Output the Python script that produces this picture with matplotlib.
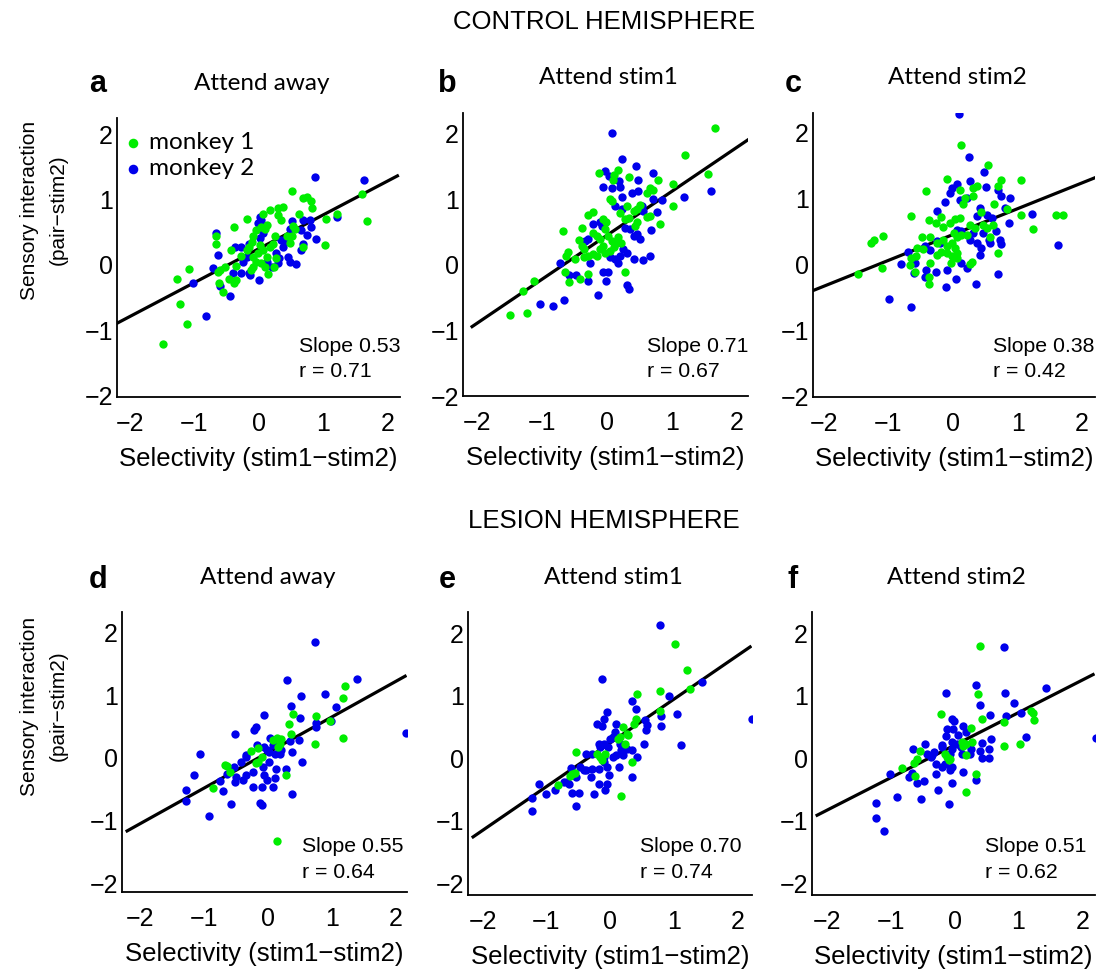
import matplotlib
matplotlib.use("Agg")
import matplotlib.pyplot as plt
import numpy as np

W, H = 1101, 976

# ---------------- data ----------------
# Panel a: control, attend away
a_m1_x = [0.52,0.69,0.75,0.81,0.83,1.60,1.68,1.22,1.04,1.03,0.63,0.30,0.38,0.17,0.06,-0.19,-0.38,-0.66,-0.67,
          -1.09,-1.27,-1.23,-1.11,-1.49,-0.62,-0.55,-0.39,-0.36,-0.47,-0.63,-0.60,-0.53,-0.43,-0.36,-0.28,-0.12,
          -0.09,0.14,0.24,0.26,0.43,0.51,0.48,0.53,0.56,0.34,0.30,-0.09,-0.04,0.04,0.09,0.12,-0.11,0.02,0.07,
          -0.01,-0.09,-0.16,-0.19,0.17,0.22,0.25,0.12,0.04,-0.04,0.09,0.68]
a_m1_y = [1.14,1.03,1.04,0.98,0.87,1.09,0.68,0.78,0.70,0.31,0.78,0.88,0.89,0.85,0.79,0.71,0.59,0.44,0.32,
          -0.06,-0.22,-0.60,-0.91,-1.22,-0.28,-0.41,-0.28,-0.23,-0.21,-0.11,-0.07,-0.03,0.23,-0.02,0.14,-0.07,
          -0.03,-0.14,-0.03,0.10,0.45,0.45,0.34,0.60,0.56,0.69,0.77,0.44,0.54,0.59,0.56,0.62,0.36,0.31,0.23,
          0.18,0.13,0.28,0.23,0.28,0.33,0.44,0.13,0.03,0.05,-0.03,0.27]
a_m2_x = [0.87,1.63,1.21,0.88,0.69,0.79,0.81,0.74,0.66,0.51,0.48,0.57,0.48,0.45,0.30,0.32,0.27,0.38,0.40,0.35,
          0.02,0.04,-0.01,-0.66,-0.64,-0.71,-1.02,-0.82,-0.44,-0.60,-0.37,-0.27,-0.16,-0.19,-0.24,-0.40,-0.27,
          -0.15,-0.13,0.00,0.20,0.12,0.02,0.07,0.66,0.69]
a_m2_y = [1.35,1.30,0.74,0.40,0.69,0.69,0.59,0.46,0.54,0.68,0.56,0.02,0.05,0.13,0.03,0.10,0.18,0.28,0.36,0.38,
          0.74,0.69,0.64,0.49,0.16,-0.04,-0.27,-0.79,-0.47,-0.33,0.28,0.28,0.33,0.13,0.05,-0.13,-0.13,
          -0.13,-0.16,-0.23,-0.03,0.05,0.41,0.49,0.23,0.33]

# Panel b: control, attend stim1
b_m1_x = [1.66,1.20,1.56,1.01,1.02,0.82,0.78,0.66,0.70,0.61,0.50,0.46,0.41,0.30,0.34,0.16,0.09,0.11,-0.12,
          0.04,0.07,0.66,0.61,0.46,0.43,0.34,0.28,0.20,-0.21,-0.30,-0.39,-0.44,-0.68,-0.39,-0.36,-0.61,-0.63,
          -0.49,-0.36,-0.65,-0.58,-0.42,-0.29,-1.12,-1.29,-1.50,-1.24,0.28,-0.21,-0.16,-0.11,-0.03,-0.01,-0.07,
          0.02,0.07,0.12,0.17,0.22,-0.11,-0.03,0.05,0.10,-0.29,-0.21,-0.06,-0.16]
b_m1_y = [2.09,1.68,1.39,1.24,0.90,0.63,1.30,1.17,1.14,1.10,0.91,0.86,0.82,0.90,1.34,1.45,1.30,1.37,1.41,
          1.01,0.97,0.75,0.74,0.65,0.60,0.72,0.70,0.79,0.81,0.76,0.57,0.38,0.52,0.29,0.24,0.20,0.14,
          0.09,0.12,-0.11,-0.26,-0.21,-0.14,-0.25,-0.39,-0.77,-0.74,-0.10,0.49,0.44,0.39,0.55,0.65,0.70,
          0.44,0.37,0.32,0.42,0.34,0.24,0.19,0.22,0.27,0.14,0.17,0.29,0.14]
b_m2_x = [0.07,0.23,0.45,0.71,0.48,-0.03,0.03,0.19,0.20,0.08,-0.07,0.48,0.38,0.23,0.84,0.71,0.77,1.19,1.60,
          0.68,0.66,0.55,0.41,0.31,0.25,0.31,0.33,0.17,0.02,-0.07,-0.02,-0.14,-0.26,-0.29,-0.48,-0.58,-0.72,
          -0.67,-0.84,-1.03,0.46,0.51,0.41,0.35,0.28,0.53,0.56,0.23,0.12,-0.08,-0.11,-0.21,-0.29,-0.34,0.20,
          0.12,0.05]
b_m2_y = [2.01,1.62,1.51,1.40,1.30,1.44,1.36,1.28,1.19,1.18,1.19,1.13,1.10,1.04,0.99,1.00,0.81,1.04,1.13,
          0.54,0.14,0.07,0.09,0.19,0.24,-0.31,-0.36,0.03,-0.11,-0.10,-0.24,-0.46,0.03,-0.24,-0.15,-0.16,0.03,
          -0.54,-0.63,-0.60,0.47,0.39,0.44,0.55,0.57,0.90,0.82,0.85,0.90,0.60,0.65,0.62,0.39,0.37,0.14,
          0.09,0.12]

# Panel c: control, attend stim2
c_m1_x = [0.12,0.54,-0.09,0.11,0.18,0.31,0.37,0.31,0.15,0.75,0.70,1.05,1.05,0.83,0.64,1.24,1.59,1.71,0.69,
          -0.42,-0.65,-0.38,-0.27,-0.18,-0.16,-1.09,-1.22,-1.27,-1.10,-1.48,-0.56,-0.46,-0.48,-0.36,-0.65,
          -0.66,-0.57,-0.59,-0.38,-0.37,-0.36,-0.25,-0.03,-0.01,0.26,0.30,0.03,0.11,-0.05,0.26,0.34,0.44,
          0.47,0.52,0.57,0.62,0.01,0.06,0.13,0.21,-0.15,-0.10,-0.02,0.03,-0.18,-0.10,0.06,-0.25,0.06]
c_m1_y = [1.81,1.52,1.30,1.14,1.01,1.17,1.20,1.04,0.92,1.28,1.20,1.28,0.76,0.84,0.92,0.54,0.76,0.76,0.18,
          1.12,0.74,0.68,0.63,0.73,0.58,0.44,0.37,0.33,-0.04,-0.14,0.25,0.24,0.42,0.43,0.10,
          0.00,0.13,-0.10,-0.19,-0.29,0.03,0.15,0.03,0.13,0.02,0.04,0.69,0.71,0.63,0.61,0.56,0.80,
          0.61,0.56,0.43,0.61,0.48,0.43,0.46,0.46,0.38,0.28,0.33,0.25,0.20,0.18,0.18,0.33,0.10]
c_m2_x = [0.10,0.24,0.48,0.51,0.26,0.06,-0.01,-0.04,0.11,0.21,-0.13,-0.25,0.70,0.75,0.89,0.80,1.23,1.63,0.86,
          0.42,0.52,0.60,0.37,0.73,0.74,0.66,0.70,0.35,0.42,0.43,0.13,0.21,0.05,-0.11,-0.10,-0.27,-0.42,
          -0.43,-0.60,-0.59,-0.81,-0.70,-1.00,-0.65,-0.43,-0.36,-0.25,-0.20,0.06,0.13,0.26,0.31,0.37,0.47,
          0.55,0.57]
c_m2_y = [2.29,1.64,1.41,1.18,1.27,1.22,1.17,1.09,0.99,1.02,0.95,0.81,1.14,1.04,1.01,0.86,0.77,0.30,0.63,
          0.86,0.76,0.71,0.74,0.38,0.32,0.52,-0.14,-0.29,0.15,0.25,0.03,-0.05,-0.21,-0.33,-0.08,-0.11,-0.07,
          -0.19,-0.13,0.03,0.01,0.20,-0.51,-0.64,0.28,0.23,0.36,0.33,0.53,0.51,0.38,0.48,0.33,0.48,
          0.38,0.33]

# Panel d: lesion, attend away
d_m1_x = [1.20,1.18,0.75,0.97,1.17,0.74,0.39,0.33,0.36,0.29,0.14,-0.87,-0.68,-0.65,-0.60,-0.26,-0.15,-0.19,
          -0.15,-0.10,0.08,0.14,0.21,0.16,0.19]
d_m1_y = [1.15,0.96,0.66,0.59,0.32,0.22,0.70,0.54,0.38,-0.27,-1.32,-0.47,-0.11,-0.13,-0.22,0.11,0.16,-0.08,
          -0.06,0.02,0.29,0.31,0.30,0.18,0.23]
d_m2_x = [0.73,1.39,0.30,0.52,0.90,1.07,0.36,0.50,0.75,0.75,0.99,2.17,-0.07,-0.19,-0.22,-0.52,-1.06,-1.16,
          -1.28,-1.28,-0.93,-0.70,-0.58,-0.13,-0.10,0.38,0.29,0.53,0.38,0.49,0.35,0.03,0.08,0.11,0.01,-0.18,
          -0.07,-0.02,-0.34,-0.35,-0.42,0.01,-0.08,-0.23,-0.07,-0.02,-0.34,-0.39,-0.52,-0.50,-0.23,-0.10,0.08,
          0.11,0.12,-0.75,-0.65,-0.54,0.21,0.19]
d_m2_y = [1.84,1.26,1.24,0.99,1.02,0.81,0.83,0.64,0.55,0.49,0.58,0.40,0.69,0.50,0.44,0.38,0.06,-0.27,
          -0.51,-0.68,-0.92,-0.52,-0.73,-0.72,-0.75,-0.57,-0.18,-0.07,0.09,0.28,0.27,0.31,0.21,0.07,0.09,0.21,
          0.17,0.13,0.05,0.01,-0.07,-0.06,-0.14,-0.22,-0.27,-0.35,-0.27,-0.35,-0.38,-0.30,-0.46,-0.46,-0.46,
          -0.32,-0.17,-0.36,-0.25,-0.14,0.13,0.06]

# Panel e: lesion, attend stim1
e_m1_x = [1.02,1.21,1.25,0.79,0.43,0.78,0.41,0.37,0.20,0.29,0.26,0.13,0.16,0.24,-0.53,-0.21,-0.16,-0.08,
          -0.13,0.35,0.18,-0.63,-0.60,-0.55,-0.82]
e_m1_y = [1.82,1.41,1.11,1.08,1.02,0.75,0.62,0.55,0.50,0.37,0.39,0.31,0.34,0.22,0.10,0.06,0.02,0.06,
          -0.03,-0.06,-0.61,-0.28,-0.25,-0.23,-0.43]
e_m2_x = [0.79,-0.13,1.45,0.93,0.35,0.41,1.05,0.80,0.80,2.23,1.12,0.54,0.55,0.58,0.56,-0.05,-0.10,-0.21,
          -0.13,0.10,0.08,0.43,0.35,0.14,-0.03,-0.10,-0.16,-0.18,0.00,0.05,0.16,0.18,0.20,0.26,0.34,0.10,0.05,
          -0.10,-0.38,-0.29,-0.05,-0.10,-0.17,-0.29,-0.47,-0.62,-0.41,-0.37,-0.30,-0.01,-0.05,-0.08,-0.18,
          -0.25,-0.48,-0.59,-0.53,-0.68,-0.65,-0.72,-0.87,-1.11,-1.01,-1.22,-1.22,-0.53]
e_m2_y = [2.13,1.27,1.22,0.99,0.92,0.79,0.71,0.68,0.52,0.63,0.21,0.23,0.61,0.53,0.45,0.74,0.62,0.54,
          0.51,0.55,0.42,0.02,-0.30,-0.14,0.18,0.23,0.18,0.23,0.31,0.34,0.23,0.13,0.05,0.15,0.13,0.05,0.02,
          0.02,0.07,0.07,-0.14,-0.06,-0.18,-0.18,-0.14,-0.15,-0.19,-0.19,-0.30,-0.27,-0.41,-0.51,-0.41,
          -0.58,-0.55,-0.55,-0.77,-0.38,-0.42,-0.38,-0.51,-0.42,-0.57,-0.64,-0.84,-0.30]

# Panel f: lesion, attend stim2
f_m1_x = [0.40,0.37,0.42,-0.21,0.78,1.20,1.23,1.25,0.77,1.02,0.26,0.12,0.17,0.27,0.13,0.17,-0.15,-0.12,
          -0.07,-0.09,-0.54,-0.59,-0.64,-0.83,-0.62,0.34,0.18]
f_m1_y = [1.79,1.03,0.62,0.70,0.58,0.76,0.73,0.61,0.20,0.22,0.49,0.26,0.23,0.26,0.19,0.05,0.06,0.02,
          -0.01,-0.03,0.12,-0.02,-0.07,-0.15,-0.28,-0.26,-0.54]
f_m2_x = [0.78,1.43,0.79,0.34,-0.14,0.40,0.93,1.04,0.81,0.56,2.21,1.11,0.57,0.43,0.40,0.43,0.54,0.53,
          -0.04,-0.02,-0.12,-0.03,0.13,0.17,0.05,-0.14,-0.20,-0.20,-0.33,-0.36,-0.43,-0.38,-0.46,-0.65,-0.04,
          -0.04,0.04,0.09,-0.07,0.12,0.24,0.26,-0.30,-0.29,-0.20,-0.15,-0.07,-0.04,0.13,-0.05,-0.26,-0.09,
          0.34,-0.49,-0.53,-0.60,-0.67,-0.72,-0.90,-1.02,-1.23,-1.23,-1.11]
f_m2_y = [1.78,1.13,1.05,1.17,1.05,0.85,0.89,0.73,0.67,0.69,0.33,0.34,0.31,0.25,0.11,0.00,0.15,0.00,
          0.63,0.59,0.46,0.46,0.52,0.42,0.37,0.35,0.21,0.18,0.10,0.05,0.06,0.02,0.23,0.14,0.26,
          0.15,0.23,0.18,0.07,0.06,0.07,0.15,-0.09,-0.25,-0.14,-0.09,-0.19,-0.14,-0.22,-0.39,-0.51,-0.74,
          -0.35,-0.36,-0.65,-0.39,-0.23,-0.30,-0.62,-0.26,-0.71,-0.95,-1.17]

# fitted regression lines (visual slope/intercept, x extent)
fit_slope = [0.521, 0.671, 0.391, 0.564, 0.699, 0.520]
fit_icpt = [0.25, 0.455, 0.46, 0.087, 0.243, 0.21]
fit_x0 = [-2.19, -2.08, -2.17, -2.21, -2.15, -2.16]
fit_x1 = [2.15, 2.17, 2.20, 2.15, 2.20, 2.17]

slope_text = ["Slope 0.53", "Slope 0.71", "Slope 0.38", "Slope 0.55", "Slope 0.70", "Slope 0.51"]
r_text = ["r = 0.71", "r = 0.67", "r = 0.42", "r = 0.64", "r = 0.74", "r = 0.62"]
titles = ["Attend away", "Attend stim1", "Attend stim2"] * 2
letters = ["a", "b", "c", "d", "e", "f"]
ticks = [-2, -1, 0, 1, 2]
tick_labels = ["\u22122", "\u22121", "0", "1", "2"]

m1 = [(a_m1_x, a_m1_y), (b_m1_x, b_m1_y), (c_m1_x, c_m1_y), (d_m1_x, d_m1_y), (e_m1_x, e_m1_y), (f_m1_x, f_m1_y)]
m2 = [(a_m2_x, a_m2_y), (b_m2_x, b_m2_y), (c_m2_x, c_m2_y), (d_m2_x, d_m2_y), (e_m2_x, e_m2_y), (f_m2_x, f_m2_y)]

# ---------------- layout ----------------
boxes = [  # left, right, top, bottom in pixels
    (117, 400, 118, 397), (463, 748, 113, 396), (813, 1095, 113, 397),
    (122, 407, 612, 892), (468, 752, 612, 895), (812, 1095, 612, 895)]
xlims = [(-2.20, 2.19), (-2.22, 2.17), (-2.17, 2.20), (-2.29, 2.18), (-2.23, 2.23), (-2.24, 2.20)]
ylims = [(-2.03, 2.26), (-1.97, 2.32), (-2.00, 2.30), (-2.13, 2.32), (-2.19, 2.34), (-2.19, 2.34)]
stat_xy = [(299, 347), (647, 347), (993, 347), (302, 847), (640, 847), (985, 847)]

GREEN = (0.0, 0.93, 0.0)
BLUE = (0.0, 0.0, 0.92)
ARIAL = ["Liberation Sans", "DejaVu Sans"]
CALI = ["Lato", "DejaVu Sans"]
FS = 18

fig = plt.figure(figsize=(W / 100, H / 100), dpi=100)

for i in range(6):
    l, r, t, b = boxes[i]
    ax = fig.add_axes([l / W, 1 - b / H, (r - l) / W, (b - t) / H])
    ax.set_xlim(*xlims[i])
    ax.set_ylim(*ylims[i])
    for s in ["top", "right"]:
        ax.spines[s].set_visible(False)
    for s in ["left", "bottom"]:
        ax.spines[s].set_linewidth(1.3)
    ax.set_xticks(ticks)
    ax.set_yticks(ticks)
    ax.set_xticklabels(tick_labels, fontfamily=ARIAL, fontsize=FS)
    ax.set_yticklabels(tick_labels, fontfamily=ARIAL, fontsize=FS)
    ax.tick_params(axis="both", length=0)
    ax.tick_params(axis="x", pad=11)
    ax.tick_params(axis="y", pad=3)
    ax.patch.set_alpha(0)

    xs = np.array([fit_x0[i], fit_x1[i]])
    ax.plot(xs, fit_slope[i] * xs + fit_icpt[i], color="black", lw=2.3, zorder=1)
    h2 = ax.scatter(m2[i][0], m2[i][1], s=36, color=BLUE, linewidths=0, zorder=2, label="monkey 2")
    h1 = ax.scatter(m1[i][0], m1[i][1], s=36, color=GREEN, linewidths=0, zorder=3, label="monkey 1")

    ax.set_xlabel("Selectivity (stim1\u2212stim2)", fontfamily=ARIAL, fontsize=18.5, labelpad=8)

    sx, sy = stat_xy[i]
    fig.text(sx / W, 1 - sy / H, slope_text[i], fontfamily=ARIAL, fontsize=15.3, va="center", ha="left")
    fig.text(sx / W, 1 - (sy + 25) / H, r_text[i], fontfamily=ARIAL, fontsize=15.3, va="center", ha="left")

    fig.text(((l + r) / 2 + 3) / W, 1 - (t - 35) / H, titles[i], fontfamily=CALI, fontsize=17.5,
             va="center", ha="center")

    if i == 0:
        fig.legend(handles=[h1, h2], loc="upper left", bbox_to_anchor=(123 / W, 1 - 132 / H), frameon=False,
                   prop={"family": CALI, "size": 17.5}, handletextpad=0.25, labelspacing=0.21,
                   borderaxespad=0.0, handlelength=0.8, scatterpoints=1, borderpad=0.0, markerscale=1.15)

letter_xy = [(98, 84), (447, 84), (793, 84), (98, 580), (447, 580), (793, 580)]
for i, (lx, ly) in enumerate(letter_xy):
    fig.text(lx / W, 1 - ly / H, letters[i], fontfamily=ARIAL, fontsize=22, fontweight="bold",
             va="center", ha="center")

fig.text(604 / W, 1 - 22 / H, "CONTROL HEMISPHERE", fontfamily=ARIAL, fontsize=18.5, va="center", ha="center")
fig.text(604 / W, 1 - 521 / H, "LESION HEMISPHERE", fontfamily=ARIAL, fontsize=18.5, va="center", ha="center")

for yc in (210, 706):
    fig.text(30 / W, 1 - yc / H, "Sensory interaction", fontfamily=ARIAL, fontsize=15, rotation=90,
             va="center", ha="center")
    fig.text(58 / W, 1 - yc / H, "(pair\u2212stim2)", fontfamily=ARIAL, fontsize=15, rotation=90,
             va="center", ha="center")

fig.savefig("out.png", dpi=100)
